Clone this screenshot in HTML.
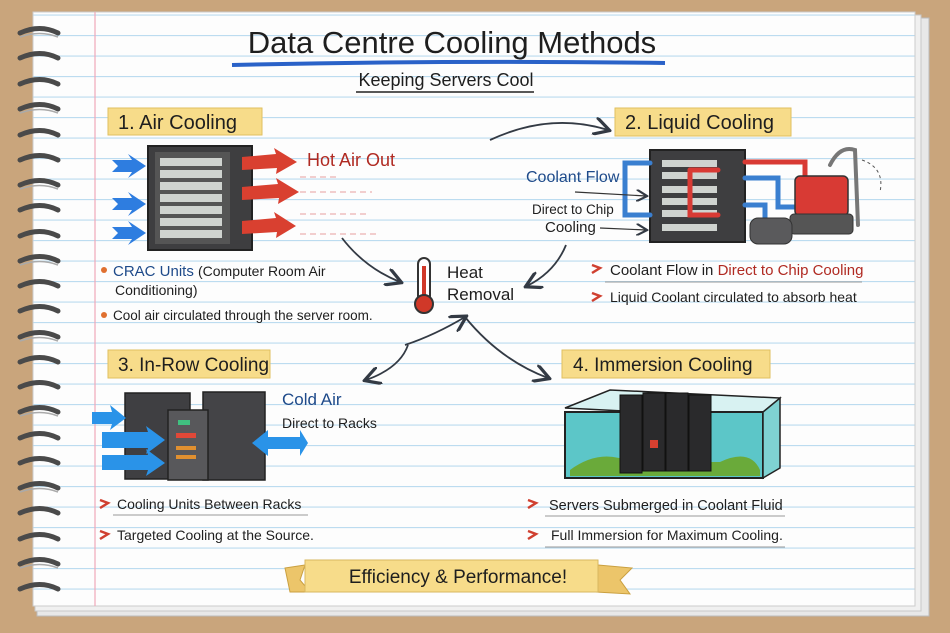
<!DOCTYPE html>
<html><head><meta charset="utf-8"><style>
html,body{margin:0;padding:0;width:950px;height:633px;overflow:hidden;background:#c9a57c}
svg{display:block}
text{font-family:"Liberation Sans",sans-serif}
</style></head><body>
<svg width="950" height="633" viewBox="0 0 950 633" xmlns="http://www.w3.org/2000/svg">
<defs>
<pattern id="lines" x="0" y="35" width="950" height="20.5" patternUnits="userSpaceOnUse">
<rect width="950" height="20.5" fill="#fdfdfd"/>
<line x1="0" y1="0.5" x2="950" y2="0.5" stroke="#bcdcf0" stroke-width="1.2"/>
</pattern>
<marker id="ah" markerWidth="10" markerHeight="10" refX="8" refY="5" orient="auto"><path d="M0,0 L9,5 L0,10" fill="none" stroke="#333a44" stroke-width="1.8"/></marker>
</defs>
<rect width="950" height="633" fill="#c9a57c"/>
<!-- paper stack -->
<rect x="37" y="18" width="892" height="598" fill="#e8e8e8" stroke="#bbb"/>
<rect x="35" y="15" width="886" height="596" fill="#f0f0f0" stroke="#c8c8c8"/>
<rect x="33" y="12" width="882" height="594" fill="url(#lines)" stroke="#ccc"/>
<line x1="95" y1="12" x2="95" y2="606" stroke="#f0a8b8" stroke-width="1.2"/>
<!-- rings -->
<g fill="none" stroke="#4a4a4a" stroke-width="5" stroke-linecap="round">
<path d="M20,33 Q40,24 58,33"/><path d="M20,58 Q40,49 58,58"/><path d="M20,84 Q40,75 58,84"/><path d="M20,109 Q40,100 58,109"/><path d="M20,135 Q40,126 58,135"/><path d="M20,160 Q40,151 58,160"/><path d="M20,185 Q40,176 58,185"/><path d="M20,210 Q40,201 58,210"/><path d="M20,236 Q40,227 58,236"/><path d="M20,261 Q40,252 58,261"/><path d="M20,286 Q40,277 58,286"/><path d="M20,311 Q40,302 58,311"/><path d="M20,337 Q40,328 58,337"/><path d="M20,362 Q40,353 58,362"/><path d="M20,387 Q40,378 58,387"/><path d="M20,412 Q40,403 58,412"/><path d="M20,438 Q40,429 58,438"/><path d="M20,463 Q40,454 58,463"/><path d="M20,488 Q40,479 58,488"/><path d="M20,513 Q40,504 58,513"/><path d="M20,539 Q40,530 58,539"/><path d="M20,564 Q40,555 58,564"/><path d="M20,589 Q40,580 58,589"/>
</g>
<g fill="none" stroke="#aaa" stroke-width="1.5"><path d="M20,37 Q40,30 58,37"/><path d="M20,113 Q40,106 58,113"/><path d="M20,189 Q40,182 58,189"/><path d="M20,265 Q40,258 58,265"/><path d="M20,341 Q40,334 58,341"/><path d="M20,416 Q40,409 58,416"/><path d="M20,492 Q40,485 58,492"/><path d="M20,568 Q40,561 58,568"/></g>

<!-- Title -->
<text x="452" y="53" font-size="31" text-anchor="middle" fill="#1e1e1e">Data Centre Cooling Methods</text>
<path d="M232,65 Q450,60 665,63" stroke="#2a62c8" stroke-width="4" fill="none"/>
<text x="446" y="86" font-size="18" text-anchor="middle" fill="#1e1e1e">Keeping  Servers  Cool</text>
<line x1="356" y1="92" x2="534" y2="92" stroke="#222" stroke-width="1.5"/>

<!-- 1 Air cooling -->
<rect x="108" y="108" width="154" height="27" fill="#f7dc8a" stroke="#e0c060"/>
<text x="118" y="129" font-size="20" fill="#1e1e1e">1. Air Cooling</text>
<rect x="148" y="146" width="104" height="104" fill="#3e3e40" stroke="#222" stroke-width="2"/>
<rect x="155" y="152" width="75" height="92" fill="#555"/>
<g fill="#cfd3cf"><rect x="160" y="158" width="62" height="8"/><rect x="160" y="170" width="62" height="8"/><rect x="160" y="182" width="62" height="8"/><rect x="160" y="194" width="62" height="8"/><rect x="160" y="206" width="62" height="8"/><rect x="160" y="218" width="62" height="8"/><rect x="160" y="230" width="62" height="8"/></g>
<g fill="#2e7de0"><path d="M112,160 L132,160 L128,154 L146,166 L128,178 L132,172 L112,172 L118,166Z"/><path d="M112,198 L132,198 L128,192 L146,204 L128,216 L132,210 L112,210 L118,204Z"/><path d="M112,227 L132,227 L128,221 L146,233 L128,245 L132,239 L112,239 L118,233Z"/></g>
<g fill="#d94030"><path d="M242,157 L276,154 L274,148 L297,162 L276,174 L277,168 L242,170Z"/><path d="M242,187 L278,184 L276,178 L299,192 L278,204 L279,198 L242,200Z"/><path d="M242,221 L276,218 L274,212 L296,226 L276,238 L277,232 L242,234Z"/></g>
<g stroke="#e8a0a0" stroke-width="1" stroke-dasharray="6,4"><line x1="300" y1="177" x2="340" y2="177"/><line x1="300" y1="192" x2="372" y2="192"/><line x1="300" y1="214" x2="370" y2="214"/><line x1="300" y1="234" x2="376" y2="234"/></g>
<text x="307" y="166" font-size="18" fill="#b02a22">Hot Air Out</text>
<circle cx="104" cy="270" r="3" fill="#e07030"/>
<text x="113" y="276" font-size="15" fill="#1e4a8a">CRAC Units</text>
<text x="198" y="276" font-size="14" fill="#1e1e1e">(Computer Room Air</text>
<text x="115" y="295" font-size="14" fill="#1e1e1e">Conditioning)</text>
<circle cx="104" cy="315" r="3" fill="#e07030"/>
<text x="113" y="320" font-size="13.5" fill="#1e1e1e">Cool air circulated through the server room.</text>

<!-- Heat removal -->
<rect x="418" y="258" width="12" height="44" rx="6" fill="#fff" stroke="#333" stroke-width="2"/>
<rect x="422" y="266" width="4" height="34" fill="#d03828"/>
<circle cx="424" cy="304" r="9" fill="#d03828" stroke="#333" stroke-width="2"/>
<text x="447" y="278" font-size="17" fill="#1e1e1e">Heat</text>
<text x="447" y="300" font-size="17" fill="#1e1e1e">Removal</text>
<g fill="none" stroke="#333a44" stroke-width="1.8" marker-end="url(#ah)">
<path d="M342,238 Q365,268 400,282"/>
<path d="M490,140 Q550,112 608,130"/>
<path d="M566,245 Q555,272 527,286"/>
<path d="M408,345 Q400,368 366,380"/>
<path d="M405,345 Q435,335 465,317"/>
<path d="M465,317 Q500,360 548,378"/>
</g>

<!-- 2 Liquid cooling -->
<rect x="615" y="108" width="176" height="28" fill="#f7dc8a" stroke="#e0c060"/>
<text x="625" y="129" font-size="20" fill="#1e1e1e">2. Liquid Cooling</text>
<rect x="650" y="150" width="95" height="92" fill="#3e3e40" stroke="#222" stroke-width="2"/>
<g fill="#cfd3cf"><rect x="662" y="160" width="55" height="7"/><rect x="662" y="172" width="55" height="7"/><rect x="662" y="186" width="55" height="7"/><rect x="662" y="198" width="55" height="7"/><rect x="662" y="210" width="55" height="7"/><rect x="662" y="224" width="55" height="7"/></g>
<g fill="none" stroke-width="5" stroke-linecap="round">
<path d="M650,163 L625,163 L625,215 L650,215" stroke="#3a7fd0"/>
<path d="M690,170 L690,215 L718,215" stroke="#d83a34"/>
<path d="M690,170 L718,170" stroke="#d83a34"/>
<path d="M745,162 L805,162 L805,180" stroke="#d83a34"/>
<path d="M745,178 L778,178 L778,207 L800,207" stroke="#3a7fd0"/>
<path d="M745,205 L765,205 L765,218" stroke="#3a7fd0"/>
<path d="M796,230 L810,230 L810,220" stroke="#888" stroke-width="8"/>
<path d="M830,165 Q840,145 855,150 L858,225" stroke="#777" stroke-width="4"/>
</g>
<rect x="795" y="176" width="53" height="40" rx="5" fill="#d83a34" stroke="#333" stroke-width="1.5"/>
<rect x="790" y="214" width="63" height="20" rx="4" fill="#555" stroke="#333"/>
<rect x="750" y="218" width="42" height="26" rx="8" fill="#5a5a5c" stroke="#333"/>
<path d="M862,160 Q885,168 880,192" stroke="#555" stroke-dasharray="3,3" fill="none"/>
<text x="526" y="182" font-size="16" fill="#1e4a8a">Coolant Flow</text>
<text x="532" y="214" font-size="13.5" fill="#1e1e1e">Direct to Chip</text>
<text x="545" y="232" font-size="15" fill="#1e1e1e">Cooling</text>
<g stroke="#333" stroke-width="1.2" marker-end="url(#ah)" fill="none"><line x1="575" y1="192" x2="646" y2="196"/><line x1="600" y1="228" x2="646" y2="230"/></g>
<path d="M592,265 L600,268 L592,273" fill="none" stroke="#d04030" stroke-width="2.5"/>
<text x="610" y="275" font-size="15" fill="#1e1e1e">Coolant Flow in <tspan fill="#b02a22">Direct to Chip Cooling</tspan></text>
<line x1="605" y1="282" x2="862" y2="282" stroke="#999"/>
<path d="M592,293 L600,296 L592,301" fill="none" stroke="#d04030" stroke-width="2.5"/>
<text x="610" y="302" font-size="14" fill="#1e1e1e">Liquid Coolant circulated to absorb heat</text>

<!-- 3 In-row -->
<rect x="108" y="350" width="162" height="28" fill="#f7dc8a" stroke="#e0c060"/>
<text x="118" y="371" font-size="19" fill="#1e1e1e">3. In-Row Cooling</text>
<rect x="125" y="393" width="65" height="86" fill="#3f3f42" stroke="#222" stroke-width="1.5"/>
<rect x="203" y="392" width="62" height="88" fill="#444447" stroke="#222" stroke-width="1.5"/>
<rect x="168" y="410" width="40" height="70" fill="#58585b" stroke="#222" stroke-width="1.5"/>
<rect x="178" y="420" width="12" height="5" fill="#40c080"/><rect x="176" y="433" width="20" height="5" fill="#e04838"/><rect x="176" y="446" width="20" height="4" fill="#e09030"/><rect x="176" y="455" width="20" height="4" fill="#e09030"/>
<g fill="#2a93e8"><path d="M92,412 L112,412 L110,405 L126,418 L110,430 L112,424 L92,424Z"/><path d="M102,432 L148,432 L146,426 L165,440 L146,454 L148,448 L102,448Z"/><path d="M102,455 L148,455 L146,449 L165,463 L146,476 L148,470 L102,470Z"/><path d="M252,443 L268,430 L268,437 L300,437 L300,430 L308,443 L300,456 L300,449 L268,449 L268,456Z"/></g>
<text x="282" y="405" font-size="17" fill="#1e4a8a">Cold Air</text>
<text x="282" y="428" font-size="14" fill="#1e1e1e">Direct to Racks</text>
<path d="M100,500 L108,503 L100,508" fill="none" stroke="#d04030" stroke-width="2.5"/>
<text x="117" y="509" font-size="14" fill="#1e1e1e">Cooling Units Between Racks</text>
<line x1="113" y1="515" x2="308" y2="515" stroke="#999"/>
<path d="M100,531 L108,534 L100,539" fill="none" stroke="#d04030" stroke-width="2.5"/>
<text x="117" y="540" font-size="14" fill="#1e1e1e">Targeted Cooling at the Source.</text>

<!-- 4 Immersion -->
<rect x="562" y="350" width="208" height="28" fill="#f7dc8a" stroke="#e0c060"/>
<text x="573" y="371" font-size="19" fill="#1e1e1e">4. Immersion Cooling</text>
<path d="M565,408 L610,390 L780,398 L760,418Z" fill="#d8f2f2" stroke="#222" stroke-width="1.5"/>
<rect x="565" y="412" width="198" height="66" fill="#5cc6c8" stroke="#222" stroke-width="2"/>
<path d="M763,412 L780,398 L780,468 L763,478Z" fill="#7fd2d2" stroke="#222" stroke-width="1.5"/>
<path d="M570,470 Q600,448 630,462 L720,462 Q750,448 760,470 L760,476 L570,476Z" fill="#6aaa3a"/>
<g fill="#2a2a2c" stroke="#111"><rect x="620" y="395" width="22" height="78"/><rect x="643" y="393" width="22" height="78"/><rect x="666" y="393" width="22" height="78"/><rect x="689" y="395" width="22" height="76"/></g>
<rect x="650" y="440" width="8" height="8" fill="#d84030"/>
<path d="M528,500 L536,503 L528,508" fill="none" stroke="#d04030" stroke-width="2.5"/>
<text x="549" y="510" font-size="14.5" fill="#1e1e1e">Servers Submerged in Coolant Fluid</text>
<line x1="545" y1="516" x2="785" y2="516" stroke="#999"/>
<path d="M528,531 L536,534 L528,539" fill="none" stroke="#d04030" stroke-width="2.5"/>
<text x="551" y="540" font-size="14" fill="#1e1e1e">Full Immersion for Maximum Cooling.</text>
<line x1="545" y1="547" x2="785" y2="547" stroke="#999"/>

<!-- banner -->
<path d="M285,568 L305,565 L300,580 L310,592 L290,592Z" fill="#ecc56a" stroke="#caa040"/>
<path d="M598,565 L632,568 L620,580 L630,594 L596,592Z" fill="#ecc56a" stroke="#caa040"/>
<rect x="305" y="560" width="293" height="32" fill="#f7dc8a" stroke="#d8b860"/>
<text x="458" y="583" font-size="19" text-anchor="middle" fill="#1e1e1e">Efficiency &amp; Performance!</text>
</svg>
</body></html>
